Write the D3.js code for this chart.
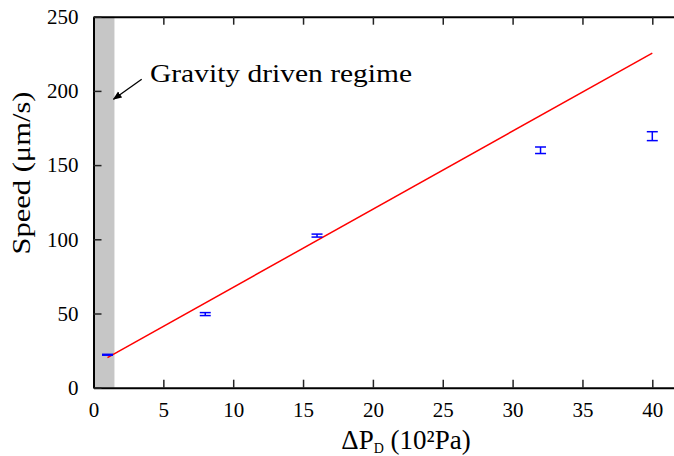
<!DOCTYPE html>
<html>
<head>
<meta charset="utf-8">
<script src="https://cdn.jsdelivr.net/npm/d3@7"></script>
<style>
  body { margin: 0; background: #fff; }
  svg { display: block; font-family: "Liberation Serif", "DejaVu Serif", serif; }
  .axis path { stroke: #000; stroke-width: 2; }
  .axis line { stroke: #222; stroke-width: 1.5; }
  .axis text { font-size: 21px; fill: #000; font-family: "Liberation Serif", serif; }
</style>
</head>
<body>
<svg id="chart" width="674" height="456"></svg>
<script>
// measured values
var pressure = [1, 8, 16, 32, 40];
var speed = [22.2, 49.6, 102.5, 160, 169.5];
var speedErr = [0.3, 1, 1, 2.2, 3];
var fitX = [1, 40];
var fitY = [20.3, 225.5];
var gravityRegime = [0, 1.5];
var xTicks = [0, 5, 10, 15, 20, 25, 30, 35, 40];
var yTicks = [0, 50, 100, 150, 200, 250];

var plotLeft = 93.5, plotTop = 16.7, plotBottom = 387.7;

var x = d3.scaleLinear().domain([0, 45]).range([plotLeft, plotLeft + 45 * 13.97]);
var y = d3.scaleLinear().domain([0, 250]).range([plotBottom, plotTop]);

var svg = d3.select("#chart");

svg.append("defs").append("marker")
  .attr("id", "arrow")
  .attr("viewBox", "0 0 10 10")
  .attr("refX", 9).attr("refY", 5)
  .attr("markerWidth", 7).attr("markerHeight", 7)
  .attr("orient", "auto")
  .append("path")
  .attr("d", "M0,1 L10,5 L0,9 z")
  .attr("fill", "#000");

// gray band
svg.append("rect")
  .attr("x", x(gravityRegime[0]))
  .attr("y", y(250))
  .attr("width", x(gravityRegime[1]) - x(gravityRegime[0]))
  .attr("height", y(0) - y(250))
  .attr("fill", "#c6c6c6");

// fit line
svg.append("path")
  .datum(fitX.map(function(d, i) { return [d, fitY[i]]; }))
  .attr("fill", "none")
  .attr("stroke", "#ff0000")
  .attr("stroke-width", 1.5)
  .attr("d", d3.line().x(function(d) { return x(d[0]); }).y(function(d) { return y(d[1]); }));

// error bars
var bars = svg.append("g").selectAll("g")
  .data(pressure.map(function(p, i) { return {x: p, y: speed[i], e: speedErr[i]}; }))
  .enter().append("g")
  .attr("stroke", "#0000ff")
  .attr("stroke-width", 1.5);

bars.append("line")
  .attr("x1", function(d) { return x(d.x); })
  .attr("x2", function(d) { return x(d.x); })
  .attr("y1", function(d) { return y(d.y - d.e); })
  .attr("y2", function(d) { return y(d.y + d.e); });
bars.append("line")
  .attr("x1", function(d) { return x(d.x) - 5.5; })
  .attr("x2", function(d) { return x(d.x) + 5.5; })
  .attr("y1", function(d) { return y(d.y - d.e); })
  .attr("y2", function(d) { return y(d.y - d.e); });
bars.append("line")
  .attr("x1", function(d) { return x(d.x) - 5.5; })
  .attr("x2", function(d) { return x(d.x) + 5.5; })
  .attr("y1", function(d) { return y(d.y + d.e); })
  .attr("y2", function(d) { return y(d.y + d.e); });

// axes, ticks pointing inside
svg.append("g")
  .attr("class", "axis")
  .attr("transform", "translate(0," + plotBottom + ")")
  .call(d3.axisBottom(x).tickValues(xTicks).tickSizeInner(-8).tickSizeOuter(0).tickPadding(14))
  .selectAll("text").attr("dy", "0.71em");

svg.append("g")
  .attr("class", "axis")
  .attr("transform", "translate(0," + plotTop + ")")
  .call(d3.axisTop(x).tickValues(xTicks).tickSizeInner(-8).tickSizeOuter(0).tickFormat(""));

svg.append("g")
  .attr("class", "axis")
  .attr("transform", "translate(" + plotLeft + ",0)")
  .call(d3.axisLeft(y).tickValues(yTicks).tickSizeInner(-8).tickSizeOuter(0).tickPadding(15))
  .selectAll("text").attr("font-size", 22);

// annotation
svg.append("line")
  .attr("x1", 141.7).attr("y1", 79.3)
  .attr("x2", 113.5).attr("y2", 99.3)
  .attr("stroke", "#000").attr("stroke-width", 1.3)
  .attr("marker-end", "url(#arrow)");

svg.append("text")
  .attr("x", 150).attr("y", 82)
  .attr("font-size", 26)
  .attr("textLength", 262)
  .attr("lengthAdjust", "spacingAndGlyphs")
  .text("Gravity driven regime");

// axis titles
var xt = svg.append("text")
  .attr("x", 406).attr("y", 449)
  .attr("text-anchor", "middle")
  .attr("font-size", 27);
xt.append("tspan").text("ΔP");
xt.append("tspan").attr("font-size", 14).attr("dy", 4).text("D");
xt.append("tspan").attr("dy", -4).text(" (10²Pa)");

svg.append("text")
  .attr("transform", "translate(30,173) rotate(-90)")
  .attr("text-anchor", "middle")
  .attr("font-size", 26)
  .attr("textLength", 163)
  .attr("lengthAdjust", "spacingAndGlyphs")
  .text("Speed (μm/s)");
</script>
</body>
</html>
